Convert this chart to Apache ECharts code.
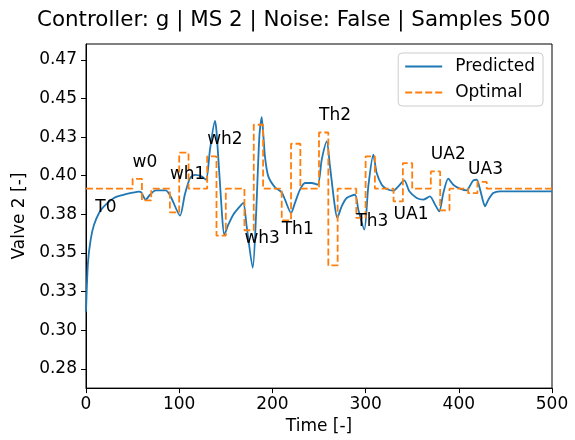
<!DOCTYPE html>
<html>
<head>
<meta charset="utf-8">
<script src="https://cdn.jsdelivr.net/npm/echarts@6/dist/echarts.min.js"></script>
<style>
  html, body { margin: 0; padding: 0; background: #fff; }
  #chart { width: 575px; height: 440px; }
</style>
</head>
<body>
<div id="chart"></div>
<script>
// predicted valve position (time, value)
var predT = [0, 2.1, 5, 8.6, 14, 19.3, 30, 40.8, 50, 56.9, 59.3, 64, 68.7, 74.8, 85.5, 90.8,
  100.9, 106, 111.6, 117, 124, 128.8, 133, 138.4, 140.2, 145.6, 148.4, 152.7, 158, 165.2, 168.8,
  172.4, 178.9, 182.4, 186, 188.5, 192, 195.6, 202.8, 210, 213.5, 220, 224.2, 229.6, 235, 242,
  248.6, 252.9, 258.3, 261.8, 266.5, 269.6, 274.3, 279.7, 288.6, 292.2, 298.6, 302.9, 308.3,
  311.9, 317.3, 322.6, 329.8, 335.1, 341.5, 346.9, 354.8, 361.9, 369, 374.5, 379, 383.4, 388.7,
  394, 401.3, 408.5, 412, 415.6, 419.2, 422, 425.6, 428.1, 431.7, 437, 444.2, 460, 500];
var predV = [0.312, 0.3436, 0.3587, 0.3683, 0.3759, 0.3802, 0.3856, 0.3877, 0.389, 0.3897, 0.3892, 0.3845, 0.3877, 0.3905, 0.3905, 0.3866,
  0.3742, 0.3877, 0.3985, 0.4006, 0.3996, 0.3974, 0.4168, 0.4355, 0.4276, 0.378, 0.3619, 0.3683, 0.3748, 0.3802, 0.3824,
  0.3672, 0.3404, 0.3737, 0.4254, 0.438, 0.4125, 0.3996, 0.3925, 0.3892, 0.3845, 0.3759, 0.3824, 0.391, 0.3953, 0.3953,
  0.3942, 0.4103, 0.4222, 0.406, 0.3824, 0.3727, 0.3802, 0.3856, 0.3877, 0.378, 0.3651, 0.3931, 0.4136,
  0.4017, 0.3942, 0.3914, 0.3903, 0.3931, 0.397, 0.3899, 0.3856, 0.3845, 0.3866, 0.3813, 0.3769, 0.3888, 0.3981,
  0.3942, 0.3917, 0.3905, 0.3935, 0.397, 0.3974, 0.3931, 0.3845, 0.3802, 0.3845, 0.3888, 0.3899, 0.3899, 0.3899];

// optimal valve position, held from each time until the next
var optT = [0, 50, 60, 70, 90, 100, 110, 130, 140, 150, 170, 180, 190, 210, 220, 230, 250, 260, 270,
  290, 300, 310, 330, 340, 350, 370, 380, 390, 410, 420, 430, 500];
var optV = [0.3916, 0.398, 0.384, 0.3916, 0.3763, 0.415, 0.3916, 0.4125, 0.3612, 0.3916, 0.3647, 0.433, 0.3916,
  0.3711, 0.4207, 0.3916, 0.428, 0.3419, 0.3916, 0.3727, 0.4125, 0.3916, 0.3834, 0.4082, 0.3916, 0.4028,
  0.3776, 0.3916, 0.3888, 0.396, 0.3916, 0.3916];

// scenario annotations
var annNames = ['T0', 'w0', 'wh1', 'wh2', 'wh3', 'Th1', 'Th2', 'Th3', 'UA1', 'UA2', 'UA3'];
var annT = [10, 50, 90, 130, 170, 210, 250, 290, 330, 370, 410];
var annV = [0.3764, 0.4058, 0.3977, 0.4203, 0.3561, 0.3625, 0.4362, 0.3677, 0.3719, 0.4107, 0.401];

var yTicks = [0.275, 0.3, 0.325, 0.35, 0.375, 0.4, 0.425, 0.45, 0.475];
var yTickLabels = ['0.28', '0.30', '0.33', '0.35', '0.38', '0.40', '0.43', '0.45', '0.47'];

var font = 'DejaVu Sans';
var fs = 17;

function pairs(xs, ys) {
  return xs.map(function (x, i) { return [x, ys[i]]; });
}

var myChart = echarts.init(document.getElementById('chart'));
var option = {
  animation: false,
  textStyle: { fontFamily: font },
  title: {
    text: 'Controller: g | MS 2 | Noise: False | Samples 500',
    left: 32,
    top: 5,
    textStyle: { fontFamily: font, fontSize: 21.4, fontWeight: 'normal', color: '#000' }
  },
  legend: {
    right: 32,
    top: 53,
    orient: 'vertical',
    itemWidth: 37,
    itemHeight: 14,
    itemGap: 9,
    padding: [5, 8, 5, 6],
    borderColor: '#ccc',
    borderWidth: 1,
    borderRadius: 4,
    backgroundColor: 'rgba(255,255,255,0.8)',
    itemStyle: { opacity: 0 },
    textStyle: { fontFamily: font, fontSize: fs, color: '#000', padding: [0, 0, 0, 8] },
    data: ['Predicted', 'Optimal']
  },
  grid: {
    left: 86,
    right: 23,
    top: 44,
    bottom: 51,
    show: true,
    borderColor: '#000',
    borderWidth: 1
  },
  xAxis: {
    type: 'value',
    min: 0,
    max: 500,
    interval: 100,
    name: 'Time [-]',
    nameLocation: 'middle',
    nameGap: 27,
    nameTextStyle: { fontFamily: font, fontSize: fs, color: '#000' },
    splitLine: { show: false },
    axisLine: { show: true, onZero: false, lineStyle: { color: '#000' } },
    axisTick: { show: true, length: 5, lineStyle: { color: '#000' } },
    axisLabel: { fontFamily: font, fontSize: fs, color: '#000', margin: 8 }
  },
  yAxis: {
    type: 'value',
    min: 0.2625,
    max: 0.4853,
    name: 'Valve 2 [-]',
    nameLocation: 'middle',
    nameGap: 53,
    nameTextStyle: { fontFamily: font, fontSize: fs, color: '#000' },
    splitLine: { show: false },
    axisLine: { show: true, lineStyle: { color: '#000' } },
    axisTick: { show: true, length: 5, customValues: yTicks, lineStyle: { color: '#000' } },
    axisLabel: {
      fontFamily: font, fontSize: fs, color: '#000', margin: 9,
      customValues: yTicks,
      formatter: function (v) {
        var i = yTicks.findIndex(function (t) { return Math.abs(t - v) < 1e-6; });
        return i >= 0 ? yTickLabels[i] : '';
      }
    }
  },
  series: [
    {
      name: 'Predicted',
      type: 'line',
      data: pairs(predT, predV),
      smooth: 0.25,
      symbol: 'none',
      color: '#1f77b4',
      lineStyle: { width: 1.8, color: '#1f77b4' },
      z: 3
    },
    {
      name: 'Optimal',
      type: 'line',
      data: pairs(optT, optV),
      step: 'end',
      symbol: 'none',
      color: '#ff7f0e',
      lineStyle: { width: 1.8, color: '#ff7f0e', type: [7, 3] },
      z: 4
    },
    {
      name: 'annotations',
      type: 'scatter',
      symbolSize: 0,
      silent: true,
      itemStyle: { color: '#000', opacity: 0 },
      data: annNames.map(function (n, i) { return { name: n, value: [annT[i], annV[i]] }; }),
      label: {
        show: true,
        position: [0, 4],
        align: 'left',
        verticalAlign: 'bottom',
        formatter: '{b}',
        fontFamily: font,
        fontSize: fs,
        color: '#000',
        opacity: 1,
        textBorderWidth: 0
      },
      z: 5
    }
  ]
};
myChart.setOption(option);
</script>
</body>
</html>
